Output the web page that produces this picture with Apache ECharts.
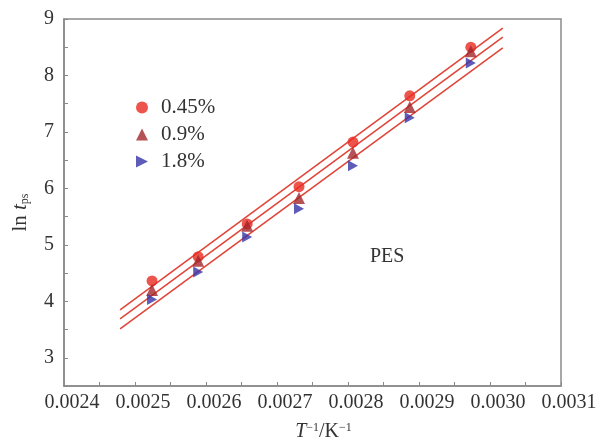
<!DOCTYPE html>
<html>
<head>
<meta charset="utf-8">
<script src="https://cdn.jsdelivr.net/npm/echarts@6/dist/echarts.min.js"></script>
<style>
  html, body { margin: 0; background: #fff; }
  #chart { width: 601px; height: 440px; }
</style>
</head>
<body>
<div id="chart"></div>
<script>
// 1/T values (K^-1)
var invT = [0.002524, 0.002589, 0.002658, 0.002731, 0.002807, 0.002887, 0.002973];
// ln t_ps for each content
var ln045 = [4.36, 4.79, 5.37, 6.03, 6.82, 7.64, 8.50];
var ln09 = [4.20, 4.72, 5.34, 5.83, 6.63, 7.44, 8.43];
var ln18 = [4.03, 4.52, 5.14, 5.64, 6.40, 7.25, 8.22];
// fitted lines, end points
var fitX = [0.002479, 0.003018];
var fit045 = [3.85, 8.84];
var fit09 = [3.69, 8.68];
var fit18 = [3.51, 8.49];
var names = ['0.45%', '0.9%', '1.8%'];

var serif = '"Liberation Serif", "DejaVu Serif", serif';
var axisGray = '#8a8a8a';
var lineRed = '#e0463a';
var rightTri = 'path://M0,0 L10,5 L0,10 Z';

function pairs(xs, ys) {
  return xs.map(function (x, i) { return [x, ys[i]]; });
}

function fitLine(ys) {
  return {
    type: 'line',
    data: pairs(fitX, ys),
    symbol: 'none',
    silent: true,
    lineStyle: { color: lineRed, width: 1.6 },
    z: 1
  };
}

var myChart = echarts.init(document.getElementById('chart'));
var option = {
  animation: false,
  grid: {
    left: 64, right: 40, top: 19, bottom: 54,
    outerBoundsMode: 'none',
    containLabel: false,
    show: true, borderColor: axisGray, borderWidth: 1.5
  },
  legend: {
    orient: 'vertical',
    left: 131,
    top: 92,
    itemWidth: 12,
    itemHeight: 12,
    itemGap: 6,
    data: names,
    textStyle: { fontFamily: serif, fontSize: 21, color: '#333', padding: [0, 0, 0, 8] }
  },
  xAxis: {
    type: 'value',
    min: 0.0024,
    max: 0.0031,
    interval: 0.00005,
    name: '{i|T}{sup|\u22121}/K{sup|\u22121}',
    nameLocation: 'middle',
    nameGap: 36,
    nameTextStyle: {
      fontFamily: serif, fontSize: 20, color: '#333', padding: [0, 0, 0, 22],
      rich: {
        i: { fontFamily: serif, fontSize: 20, fontStyle: 'italic', color: '#333' },
        sup: { fontFamily: serif, fontSize: 12, color: '#333', verticalAlign: 'top', padding: [0, 0, 8, 0] }
      }
    },
    axisLine: { lineStyle: { color: axisGray, width: 1.5 } },
    axisTick: { inside: true, length: 4, lineStyle: { color: axisGray } },
    splitLine: { show: false },
    axisLabel: {
      fontFamily: serif, fontSize: 20, color: '#333', margin: 7,
      padding: [0, 0, 0, 16],
      showMinLabel: true, showMaxLabel: true,
      formatter: function (v) {
        return Math.round(v * 1e5) % 10 === 0 ? v.toFixed(4) : '';
      }
    }
  },
  yAxis: {
    type: 'value',
    min: 2.5,
    max: 9,
    interval: 0.5,
    name: 'ln {i|t}{sub|ps}',
    nameLocation: 'middle',
    nameRotate: 90,
    nameGap: 33,
    nameTextStyle: {
      fontFamily: serif, fontSize: 21, color: '#333', padding: [0, 20, 0, 0],
      rich: {
        i: { fontFamily: serif, fontSize: 21, fontStyle: 'italic', color: '#333' },
        sub: { fontFamily: serif, fontSize: 12, color: '#333', verticalAlign: 'bottom', padding: [7, 0, 0, 0] }
      }
    },
    axisLine: { lineStyle: { color: axisGray, width: 1.5 } },
    axisTick: { inside: true, length: 4, lineStyle: { color: axisGray } },
    splitLine: { show: false },
    axisLabel: {
      fontFamily: serif, fontSize: 20, color: '#333', margin: 10,
      formatter: function (v) {
        return Math.abs(v - Math.round(v)) < 1e-6 ? String(Math.round(v)) : '';
      }
    }
  },
  graphic: [{
    type: 'text',
    left: 370,
    top: 247,
    style: { text: 'PES', font: '20px ' + serif, fill: '#333' }
  }],
  series: [
    fitLine(fit045),
    fitLine(fit09),
    fitLine(fit18),
    {
      name: names[0], type: 'scatter', data: pairs(invT, ln045),
      symbol: 'circle', symbolSize: 11,
      itemStyle: { color: '#e8291f' }, z: 3
    },
    {
      name: names[1], type: 'scatter', data: pairs(invT, ln09),
      symbol: 'triangle', symbolSize: 12,
      itemStyle: { color: '#a2272a' }, z: 4
    },
    {
      name: names[2], type: 'scatter', data: pairs(invT, ln18),
      symbol: rightTri, symbolSize: [10, 11],
      itemStyle: { color: '#3535a8' }, z: 5
    }
  ]
};
myChart.setOption(option);
</script>
</body>
</html>
